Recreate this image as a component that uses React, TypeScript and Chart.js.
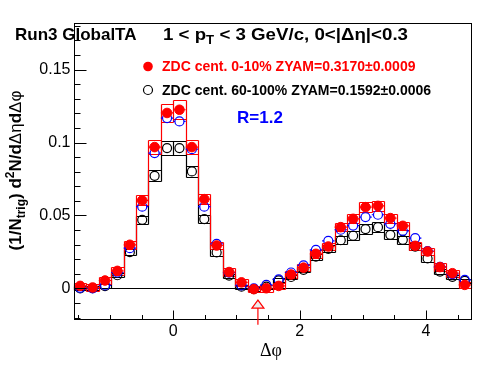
import React, { useEffect, useRef } from 'react';
import { Chart, registerables } from 'chart.js';
Chart.register(...registerables);

// Δφ bin centres (32 bins over [-π/2, 3π/2])
const binCenters = [
  -1.473, -1.276, -1.080, -0.884, -0.687, -0.491, -0.295, -0.098,
  0.098, 0.295, 0.491, 0.687, 0.884, 1.080, 1.276, 1.473,
  1.669, 1.865, 2.062, 2.258, 2.454, 2.651, 2.847, 3.043,
  3.240, 3.436, 3.633, 3.829, 4.025, 4.222, 4.418, 4.614,
];
const binHalfWidth = 0.0982;

// ZDC cent. 0-10% (red, filled)
const central = [
  0.0017, 0.0006, 0.0054, 0.0120, 0.0299, 0.0603, 0.0969, 0.1203,
  0.1225, 0.0969, 0.0612, 0.0294, 0.0112, 0.0041, -0.0005, 0.0001,
  0.0017, 0.0095, 0.0142, 0.0237, 0.0287, 0.0420, 0.0477, 0.0557,
  0.0566, 0.0482, 0.0429, 0.0292, 0.0253, 0.0146, 0.0104, 0.0024,
];
const centralSys = [
  0.0023, 0.0023, 0.0025, 0.0025, 0.0026, 0.0034, 0.0049, 0.0064,
  0.0066, 0.0049, 0.0034, 0.0026, 0.0025, 0.0024, 0.0023, 0.0023,
  0.0023, 0.0024, 0.0025, 0.0026, 0.0027, 0.0029, 0.0031, 0.0033,
  0.0034, 0.0031, 0.0029, 0.0027, 0.0026, 0.0025, 0.0024, 0.0023,
];

// ZDC cent. 60-100% (black, open)
const peripheral = [
  0.0000, 0.0002, 0.0015, 0.0090, 0.0248, 0.0470, 0.0772, 0.0962,
  0.0962, 0.0802, 0.0475, 0.0246, 0.0088, 0.0012, -0.0005, 0.0012,
  0.0055, 0.0078, 0.0127, 0.0218, 0.0271, 0.0330, 0.0361, 0.0407,
  0.0420, 0.0367, 0.0333, 0.0287, 0.0205, 0.0115, 0.0079, 0.0052,
];
const peripheralSys = [
  0.0013, 0.0013, 0.0013, 0.0014, 0.0022, 0.0026, 0.0038, 0.0046,
  0.0046, 0.0039, 0.0026, 0.0022, 0.0014, 0.0013, 0.0013, 0.0013,
  0.0014, 0.0015, 0.0017, 0.0021, 0.0024, 0.0028, 0.0030, 0.0032,
  0.0032, 0.0030, 0.0028, 0.0025, 0.0021, 0.0016, 0.0015, 0.0014,
];

// 60-100% scaled by R (blue, open)
const peripheralScaled = [
  0.0004, 0.0000, 0.0020, 0.0109, 0.0276, 0.0560, 0.0928, 0.1168,
  0.1145, 0.0955, 0.0560, 0.0305, 0.0108, 0.0020, 0.0000, 0.0024,
  0.0062, 0.0109, 0.0158, 0.0264, 0.0326, 0.0402, 0.0431, 0.0489,
  0.0505, 0.0443, 0.0395, 0.0345, 0.0255, 0.0148, 0.0098, 0.0058,
];

const xTickValues = [0, 2, 4];
const xTickLabels = ['0', '2', '4'];
const yTickValues = [0, 0.05, 0.1, 0.15];
const yTickLabels = ['0', '0.05', '0.1', '0.15'];
const xMinorStep = 0.5;
const yMinorStep = 0.01;
const xMin = -1.5708;
const xMax = 4.7124;
const yMin = -0.021;
const yMax = 0.182;
const zyamArrowX = 1.34;
const arrowTipY = -0.008;
const arrowTailY = -0.025;

const RED = '#ff0000';
const BLUE = '#0000ff';
const BLACK = '#000000';
const SANS = '"Liberation Sans", Arial, Helvetica, sans-serif';
const SERIF = '"Liberation Serif", "Times New Roman", serif';

type Seg = { t: string; size: number; bold?: boolean; dy?: number; family?: string };

function segFont(s: Seg) {
  return `${s.bold ? 'bold ' : ''}${s.size}px ${s.family || SANS}`;
}
function richWidth(ctx: CanvasRenderingContext2D, segs: Seg[]) {
  let w = 0;
  for (const s of segs) {
    ctx.font = segFont(s);
    w += ctx.measureText(s.t).width;
  }
  return w;
}
function drawRich(ctx: CanvasRenderingContext2D, segs: Seg[], x: number, y: number, color: string) {
  ctx.fillStyle = color;
  ctx.textBaseline = 'alphabetic';
  ctx.textAlign = 'left';
  let cx = x;
  for (const s of segs) {
    ctx.font = segFont(s);
    ctx.fillText(s.t, cx, y + (s.dy || 0));
    cx += ctx.measureText(s.t).width;
  }
}

const rootPlugin = {
  id: 'rootStyle',
  beforeDatasetsDraw(chart: any) {
    const ctx: CanvasRenderingContext2D = chart.ctx;
    const xs = chart.scales.x;
    const ys = chart.scales.y;
    const area = chart.chartArea;
    ctx.save();
    // zero line
    ctx.strokeStyle = BLACK;
    ctx.lineWidth = 1;
    const y0 = Math.round(ys.getPixelForValue(0)) + 0.5;
    ctx.beginPath();
    ctx.moveTo(area.left, y0);
    ctx.lineTo(area.right, y0);
    ctx.stroke();

    const px = (v: number) => Math.round(xs.getPixelForValue(v)) + 0.5;
    const py = (v: number) => Math.round(ys.getPixelForValue(v)) + 0.5;

    const drawBoxes = (vals: number[], sys: number[], color: string) => {
      ctx.strokeStyle = color;
      ctx.lineWidth = 1.2;
      ctx.beginPath();
      for (let i = 0; i < vals.length; i++) {
        const xl = px(binCenters[i] - binHalfWidth);
        const xr = px(binCenters[i] + binHalfWidth);
        const yt = py(vals[i] + sys[i]);
        const yb = py(vals[i] - sys[i]);
        // top and bottom edges
        ctx.moveTo(xl, yt);
        ctx.lineTo(xr, yt);
        ctx.moveTo(xl, yb);
        ctx.lineTo(xr, yb);
        // left edge of first box
        if (i === 0) {
          ctx.moveTo(xl, yt);
          ctx.lineTo(xl, yb);
        }
        if (i === vals.length - 1) {
          ctx.moveTo(xr, yt);
          ctx.lineTo(xr, yb);
        } else {
          // shared boundary: vertical spanning both neighbouring boxes
          const hi = Math.max(vals[i] + sys[i], vals[i + 1] + sys[i + 1]);
          const lo = Math.min(vals[i] - sys[i], vals[i + 1] - sys[i + 1]);
          ctx.moveTo(xr, py(hi));
          ctx.lineTo(xr, py(lo));
        }
      }
      ctx.stroke();
    };
    drawBoxes(peripheral, peripheralSys, BLACK);
    drawBoxes(central, centralSys, RED);

    const drawXErr = (vals: number[], color: string, r: number) => {
      ctx.strokeStyle = color;
      ctx.lineWidth = 1.2;
      for (let i = 0; i < vals.length; i++) {
        const xl = xs.getPixelForValue(binCenters[i] - binHalfWidth);
        const xr = xs.getPixelForValue(binCenters[i] + binHalfWidth);
        const xc = xs.getPixelForValue(binCenters[i]);
        const y = ys.getPixelForValue(vals[i]);
        ctx.beginPath();
        ctx.moveTo(xl, y);
        ctx.lineTo(xc - r, y);
        ctx.moveTo(xc + r, y);
        ctx.lineTo(xr, y);
        ctx.stroke();
      }
    };
    drawXErr(peripheralScaled, BLUE, 4.5);
    drawXErr(central, RED, 4.5);
    ctx.restore();
  },
  afterDatasetsDraw(chart: any) {
    const ctx: CanvasRenderingContext2D = chart.ctx;
    const xs = chart.scales.x;
    const ys = chart.scales.y;
    const area = chart.chartArea;
    ctx.save();
    // frame
    ctx.strokeStyle = BLACK;
    ctx.lineWidth = 1;
    const L = Math.round(area.left) + 0.5;
    const R = Math.round(area.right) + 0.5;
    const T = Math.round(area.top) + 0.5;
    const B = Math.round(area.bottom) + 0.5;
    ctx.strokeRect(L, T, R - L, B - T);
    // y ticks (inward, left only)
    ctx.beginPath();
    for (let v = Math.ceil(yMin / yMinorStep) * yMinorStep; v <= yMax + 1e-9; v += yMinorStep) {
      const isMajor = yTickValues.some((t) => Math.abs(t - v) < 1e-6);
      const p = Math.round(ys.getPixelForValue(v)) + 0.5;
      ctx.moveTo(L, p);
      ctx.lineTo(L + (isMajor ? 12 : 6), p);
    }
    // x ticks (inward, bottom only)
    for (let v = Math.ceil(xMin / xMinorStep) * xMinorStep; v <= xMax + 1e-9; v += xMinorStep) {
      const isMajor = xTickValues.some((t) => Math.abs(t - v) < 1e-6);
      const p = Math.round(xs.getPixelForValue(v)) + 0.5;
      ctx.moveTo(p, B);
      ctx.lineTo(p, B - (isMajor ? 9 : 4.5));
    }
    ctx.stroke();

    // ZYAM arrow
    const ax = xs.getPixelForValue(zyamArrowX);
    const tipY = ys.getPixelForValue(arrowTipY);
    const tailY = ys.getPixelForValue(arrowTailY);
    ctx.strokeStyle = RED;
    ctx.lineWidth = 1.2;
    ctx.beginPath();
    ctx.moveTo(ax, tipY + 8);
    ctx.lineTo(ax, tailY);
    ctx.stroke();
    ctx.beginPath();
    ctx.moveTo(ax, tipY);
    ctx.lineTo(ax - 6, tipY + 8);
    ctx.lineTo(ax + 6, tipY + 8);
    ctx.closePath();
    ctx.fillStyle = '#ececec';
    ctx.fill();
    ctx.stroke();

    // header texts
    drawRich(ctx, [{ t: 'Run3 GlobalTA', size: 17, bold: true }], 15, 40, BLACK);
    const hdr: Seg[] = [
      { t: '1 < p', size: 17, bold: true },
      { t: 'T', size: 12, bold: true, dy: 4 },
      { t: ' < 3 GeV/c, 0<|', size: 17, bold: true },
      { t: 'Δη', size: 17, bold: true },
      { t: '|<0.3', size: 17, bold: true },
    ];
    const hw = richWidth(ctx, hdr);
    ctx.save();
    ctx.translate(163, 40);
    ctx.scale(245 / hw, 1);
    drawRich(ctx, hdr, 0, 0, BLACK);
    ctx.restore();

    // legend
    ctx.fillStyle = RED;
    ctx.strokeStyle = RED;
    ctx.lineWidth = 1;
    ctx.beginPath();
    ctx.arc(148, 66.5, 4.8, 0, Math.PI * 2);
    ctx.fill();
    drawRich(ctx, [{ t: 'ZDC cent. 0-10% ZYAM=0.3170±0.0009', size: 14, bold: true }], 162, 71, RED);
    ctx.strokeStyle = BLACK;
    ctx.lineWidth = 1.2;
    ctx.beginPath();
    ctx.arc(148, 90, 4.5, 0, Math.PI * 2);
    ctx.stroke();
    drawRich(ctx, [{ t: 'ZDC cent. 60-100% ZYAM=0.1592±0.0006', size: 14, bold: true }], 162, 95, BLACK);

    drawRich(ctx, [{ t: 'R=1.2', size: 17, bold: true }], 237, 123, BLUE);

    // x title
    ctx.font = `18px ${SERIF}`;
    ctx.fillStyle = BLACK;
    ctx.textAlign = 'center';
    ctx.textBaseline = 'alphabetic';
    ctx.fillText('Δφ', 271, 356);

    // y title
    const ySegs: Seg[] = [
      { t: '(1/N', size: 17, bold: true },
      { t: 'trig', size: 12, bold: true, dy: 4 },
      { t: ') d', size: 17, bold: true },
      { t: '2', size: 12, bold: true, dy: -7 },
      { t: 'N/d', size: 17, bold: true },
      { t: 'Δη', size: 17 },
      { t: 'd', size: 17, bold: true },
      { t: 'Δφ', size: 17 },
    ];
    const w = richWidth(ctx, ySegs);
    ctx.save();
    ctx.translate(21, 170.5);
    ctx.rotate(-Math.PI / 2);
    drawRich(ctx, ySegs, -w / 2, 0, BLACK);
    ctx.restore();

    ctx.restore();
  },
};

export default function App() {
  const ref = useRef<HTMLCanvasElement | null>(null);
  useEffect(() => {
    document.body.style.margin = '0';
    const canvas = ref.current;
    if (!canvas) return;
    const mk = (vals: number[]) => binCenters.map((x, i) => ({ x, y: vals[i] }));
    const chart = new Chart(canvas, {
      type: 'scatter',
      data: {
        datasets: [
          {
            label: 'ZDC cent. 0-10%',
            data: mk(central),
            pointStyle: 'circle',
            pointRadius: 4.8,
            backgroundColor: RED,
            borderColor: RED,
            borderWidth: 1,
          },
          {
            label: 'scaled 60-100%',
            data: mk(peripheralScaled),
            pointStyle: 'circle',
            pointRadius: 4.5,
            backgroundColor: 'rgba(0,0,0,0)',
            borderColor: BLUE,
            borderWidth: 1.2,
          },
          {
            label: 'ZDC cent. 60-100%',
            data: mk(peripheral),
            pointStyle: 'circle',
            pointRadius: 4.5,
            backgroundColor: 'rgba(0,0,0,0)',
            borderColor: BLACK,
            borderWidth: 1.2,
          },
        ],
      },
      options: {
        animation: false,
        responsive: false,
        events: [],
        layout: { padding: { left: 0, top: 23, right: 25, bottom: 0 } },
        plugins: { legend: { display: false }, tooltip: { enabled: false } },
        scales: {
          x: {
            type: 'linear',
            min: xMin,
            max: xMax,
            afterBuildTicks: (s: any) => {
              s.ticks = xTickValues.map((v) => ({ value: v }));
            },
            afterFit: (s: any) => {
              s.height = 53;
            },
            grid: { display: false, drawTicks: false },
            border: { display: false },
            ticks: {
              autoSkip: false,
              maxRotation: 0,
              padding: 3,
              color: BLACK,
              font: { family: SANS, size: 16 },
              callback: (_v: any, i: number) => xTickLabels[i],
            },
          },
          y: {
            type: 'linear',
            min: yMin,
            max: yMax,
            afterBuildTicks: (s: any) => {
              s.ticks = yTickValues.map((v) => ({ value: v }));
            },
            afterFit: (s: any) => {
              s.width = 74;
            },
            grid: { display: false, drawTicks: false },
            border: { display: false },
            ticks: {
              autoSkip: false,
              padding: 3.5,
              color: BLACK,
              font: { family: SANS, size: 16 },
              callback: (_v: any, i: number) => yTickLabels[i],
            },
          },
        },
      },
      plugins: [rootPlugin],
    } as any);
    return () => chart.destroy();
  }, []);
  return (
    <div style={{ width: 496, height: 372, background: '#fff' }}>
      <canvas ref={ref} width={496} height={372} style={{ display: 'block' }} />
    </div>
  );
}
